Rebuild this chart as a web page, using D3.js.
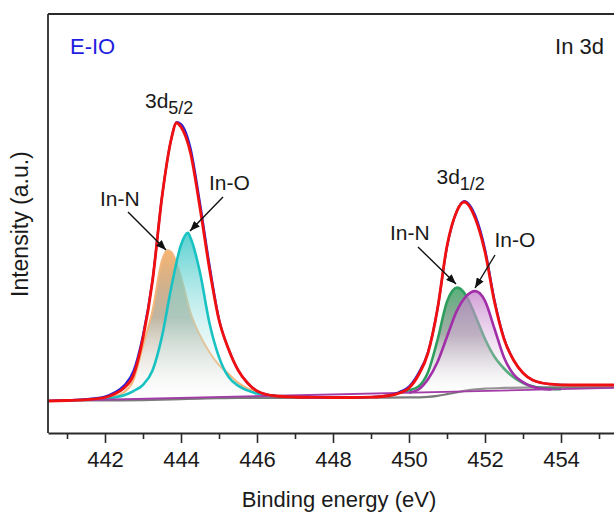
<!DOCTYPE html>
<html><head><meta charset="utf-8">
<script src="https://cdn.jsdelivr.net/npm/d3@7"></script>
<style>
body{margin:0;background:#fff}
svg{display:block}
text{font-family:"Liberation Sans",Arial,Helvetica,sans-serif}
</style>
</head><body>
<svg id="chart" width="614" height="512"></svg>
<script>
// ---------- data (binding energy in eV, intensity in a.u.) ----------
const xDomain = [440.5, 456.5];
const yDomain = [0, 420];
const majorTicks = [442, 444, 446, 448, 450, 452, 454];
const minorTicks = [441, 443, 445, 447, 449, 451, 453, 455];
const tickLabels = ["442", "444", "446", "448", "450", "452", "454"];

// linear background (purple)
const bgE = [440.5, 456.5];
const bgV = [32, 46];

// Shirley background (grey)
const shirleyE = [440.5, 441, 442, 443, 443.5, 444, 444.5, 445, 445.5, 446, 447, 448, 449, 450, 450.5, 450.75, 451, 451.25, 451.5, 451.75, 452, 452.5, 453, 454, 455, 456.5];
const shirleyV = [32, 32.3, 32.6, 32.9, 33.3, 33.9, 34.4, 34.8, 35.0, 35.1, 35.2, 35.3, 35.4, 35.6, 36.2, 37.2, 38.8, 40.6, 42.3, 43.6, 44.4, 45.1, 45.4, 45.6, 45.7, 45.8];

// measured spectrum (blue) and fitted envelope (red)
const spectrumE = [440.5, 441, 441.5, 442, 442.25, 442.5, 442.75, 443, 443.25, 443.5, 443.75, 443.88, 444, 444.25, 444.5, 444.75, 445, 445.25, 445.5, 445.75, 446, 446.25, 446.5, 447, 447.5, 448, 448.5, 449, 449.5, 449.75, 450, 450.25, 450.5, 450.75, 451, 451.25, 451.45, 451.75, 452, 452.25, 452.5, 452.75, 453, 453.25, 453.5, 453.75, 454, 454.5, 455, 455.5, 456, 456.5];
const envelopeV = [32.0, 32.5, 33.3, 35.5, 39, 45, 58, 95, 152, 236, 295, 310, 306, 280, 225, 164, 113, 84, 63, 50, 42, 38.5, 37, 36, 35.6, 35.5, 35.5, 35.8, 37.5, 40, 45, 58, 80, 124, 187, 221, 231, 214, 181, 131, 94, 73, 60, 53, 50, 48.8, 48.2, 48, 48, 48, 48, 48];
const rawV = [32.2, 32.8, 33.8, 36.5, 40.5, 47.5, 62, 98, 153, 236, 295, 311, 309, 285, 230, 168, 114, 84, 63, 50, 42, 38.5, 37, 36, 35.6, 35.5, 35.5, 36, 38, 41, 46.5, 60, 81, 124, 186, 221, 232, 217, 184, 133, 95, 73, 60, 53, 50, 48.8, 48.2, 48, 48, 48, 48, 48];

// fitted components: height above the linear background
const inN52E = [441.75, 442, 442.25, 442.5, 442.75, 443, 443.25, 443.5, 443.64, 443.75, 444, 444.25, 444.5, 444.75, 445, 445.25, 445.5, 445.75, 446, 446.25, 446.5];
const inN52 = [0.4, 1.5, 3, 7, 19, 53, 88, 138, 148, 146, 121, 85, 62, 45, 32, 23, 14, 8, 4, 1.5, 0];
const inO52E = [442, 442.25, 442.5, 442.75, 443, 443.25, 443.5, 443.75, 444, 444.18, 444.25, 444.5, 444.75, 445, 445.25, 445.5, 445.75, 446, 446.25, 446.5];
const inO52 = [0.5, 2, 4, 8, 14, 28, 62, 112, 153, 165, 160, 125, 74, 40, 20, 11, 6, 2.6, 1, 0.3];
const inN32E = [449.75, 450, 450.25, 450.5, 450.75, 451, 451.27, 451.5, 451.75, 452, 452.25, 452.5, 452.75, 453, 453.25, 453.5, 453.75, 454];
const inN32 = [1, 2.5, 6, 20, 52, 90, 104, 96, 75, 52, 34, 22, 13, 7, 3.5, 1.5, 0.5, 0];
const inO32E = [450, 450.25, 450.5, 450.75, 451, 451.25, 451.5, 451.74, 452, 452.25, 452.5, 452.75, 453, 453.25, 453.5, 453.75];
const inO32 = [0, 3, 13, 30, 55, 80, 95, 100, 90, 62, 33, 16, 8, 3, 1, 0];

// ---------- drawing ----------
const svg = d3.select("#chart");
const L = 48, T = 14, B = 433;
const x = d3.scaleLinear().domain(xDomain).range([L, 656]);
const y = d3.scaleLinear().domain(yDomain).range([B, B - 420]);
const bg = d3.scaleLinear().domain(bgE).range(bgV);

const zip = (E, V) => E.map((e, i) => ({e, v: V[i]}));
const defs = svg.append("defs");

defs.append("clipPath").attr("id", "plotclip")
  .append("rect").attr("x", L).attr("y", T).attr("width", 614 - L).attr("height", B - T);

function grad(id, stops) {
  const g = defs.append("linearGradient").attr("id", id)
    .attr("x1", 0).attr("y1", 0).attr("x2", 0).attr("y2", 1);
  stops.forEach(s => g.append("stop").attr("offset", s[0]).attr("stop-color", s[1]).attr("stop-opacity", s[2]));
}
grad("gN52", [[0, "#f6a75a", 0.85], [0.45, "#8c7a58", 0.55], [1, "#ffffff", 0.1]]);
grad("gO52", [[0, "#2ec4c4", 0.8], [0.6, "#a8e4e4", 0.35], [1, "#ffffff", 0.05]]);
grad("gN32", [[0, "#3aa563", 0.85], [0.45, "#5e6e62", 0.55], [1, "#ffffff", 0.1]]);
grad("gO32", [[0, "#c27ac8", 0.75], [0.6, "#e3c6e6", 0.35], [1, "#ffffff", 0.05]]);

const plot = svg.append("g").attr("clip-path", "url(#plotclip)");

const comps = [
  {E: inN52E, V: inN52, fill: "url(#gN52)", stroke: "#f3b67c", w: 2},
  {E: inO52E, V: inO52, fill: "url(#gO52)", stroke: "#19c2c2", w: 2.6},
  {E: inN32E, V: inN32, fill: "url(#gN32)", stroke: "#2e9e5e", w: 2.6},
  {E: inO32E, V: inO32, fill: "url(#gO32)", stroke: "#a12fa8", w: 2.6}
];
const compArea = d3.area().x(d => x(d.e)).y0(d => y(bg(d.e))).y1(d => y(bg(d.e) + d.v)).curve(d3.curveMonotoneX);
const compLine = d3.line().x(d => x(d.e)).y(d => y(bg(d.e) + d.v)).curve(d3.curveMonotoneX);
const absLine = d3.line().x(d => x(d.e)).y(d => y(d.v)).curve(d3.curveMonotoneX);

// grey Shirley background
plot.append("path").datum(zip(shirleyE, shirleyV)).attr("d", absLine)
  .attr("fill", "none").attr("stroke", "#7a7a7a").attr("stroke-width", 2.2);

comps.forEach(c => {
  const d = zip(c.E, c.V);
  plot.append("path").datum(d).attr("d", compArea).attr("fill", c.fill);
  plot.append("path").datum(d).attr("d", compLine).attr("fill", "none")
    .attr("stroke", c.stroke).attr("stroke-width", c.w);
});

// purple linear background
plot.append("path").datum(zip(bgE, bgV)).attr("d", absLine)
  .attr("fill", "none").attr("stroke", "#a23ca6").attr("stroke-width", 1.8);

// raw spectrum and envelope
plot.append("path").datum(zip(spectrumE, rawV)).attr("d", absLine)
  .attr("fill", "none").attr("stroke", "#2b1fd8").attr("stroke-width", 2.2);
plot.append("path").datum(zip(spectrumE, envelopeV)).attr("d", absLine)
  .attr("fill", "none").attr("stroke", "#f01010").attr("stroke-width", 2.8);

// frame
svg.append("line").attr("x1", L).attr("x2", 614).attr("y1", T).attr("y2", T)
  .attr("stroke", "#2a2a2a").attr("stroke-width", 1.8);
svg.append("line").attr("x1", L).attr("x2", L).attr("y1", T).attr("y2", B)
  .attr("stroke", "#2a2a2a").attr("stroke-width", 1.8);

// x axis
const ax = svg.append("g").attr("transform", `translate(0,${B})`)
  .call(d3.axisBottom(x).tickValues(majorTicks).tickSize(10).tickSizeOuter(0).tickPadding(8)
    .tickFormat((d, i) => tickLabels[i]));
ax.select(".domain").attr("stroke", "#2a2a2a").attr("stroke-width", 1.8);
ax.selectAll(".tick line").attr("stroke", "#2a2a2a").attr("stroke-width", 1.6);
ax.selectAll(".tick text").attr("font-size", 22).attr("fill", "#1a1a1a")
  .attr("font-family", "Liberation Sans, Arial, sans-serif");
const axm = svg.append("g").attr("transform", `translate(0,${B})`)
  .call(d3.axisBottom(x).tickValues(minorTicks).tickSize(6).tickSizeOuter(0).tickFormat(""));
axm.select(".domain").remove();
axm.selectAll(".tick line").attr("stroke", "#2a2a2a").attr("stroke-width", 1.6);

// axis titles
svg.append("text").attr("x", 339).attr("y", 506.5).attr("text-anchor", "middle")
  .attr("font-size", 22).attr("fill", "#1a1a1a").text("Binding energy (eV)");
svg.append("text").attr("transform", "translate(28,297) rotate(-90)").attr("text-anchor", "start")
  .attr("font-size", 23).attr("fill", "#1a1a1a").text("Intensity (a.u.)");

// panel labels
svg.append("text").attr("x", 70).attr("y", 54).attr("font-size", 22).attr("fill", "#1e1ee0").text("E-IO");
svg.append("text").attr("x", 604).attr("y", 54).attr("text-anchor", "end").attr("font-size", 22)
  .attr("fill", "#1a1a1a").text("In 3d");

function peakLabel(px, py, sub) {
  const t = svg.append("text").attr("x", px).attr("y", py).attr("font-size", 21).attr("fill", "#1a1a1a");
  t.append("tspan").text("3d");
  t.append("tspan").attr("font-size", 18).attr("dy", 6).text(sub);
}
peakLabel(145, 107.5, "5/2");
peakLabel(436.5, 183.5, "1/2");

// annotations with arrows
defs.append("marker").attr("id", "arr").attr("viewBox", "0 0 10 8").attr("refX", 10).attr("refY", 4)
  .attr("markerWidth", 10).attr("markerHeight", 8).attr("markerUnits", "userSpaceOnUse").attr("orient", "auto")
  .append("path").attr("d", "M0,0 L10,4 L0,8 z").attr("fill", "#111");
const notes = [
  {t: "In-N", tx: 100, ty: 206, x1: 128, y1: 212, x2: 166, y2: 250},
  {t: "In-O", tx: 209, ty: 190, x1: 223, y1: 197, x2: 190, y2: 231},
  {t: "In-N", tx: 390, ty: 239.5, x1: 418, y1: 247, x2: 456, y2: 284},
  {t: "In-O", tx: 494.5, ty: 246.5, x1: 495, y1: 255, x2: 475, y2: 288}
];
notes.forEach(n => {
  svg.append("text").attr("x", n.tx).attr("y", n.ty).attr("font-size", 21).attr("fill", "#1a1a1a").text(n.t);
  svg.append("line").attr("x1", n.x1).attr("y1", n.y1).attr("x2", n.x2).attr("y2", n.y2)
    .attr("stroke", "#111").attr("stroke-width", 1.4).attr("marker-end", "url(#arr)");
});
</script>
</body></html>
